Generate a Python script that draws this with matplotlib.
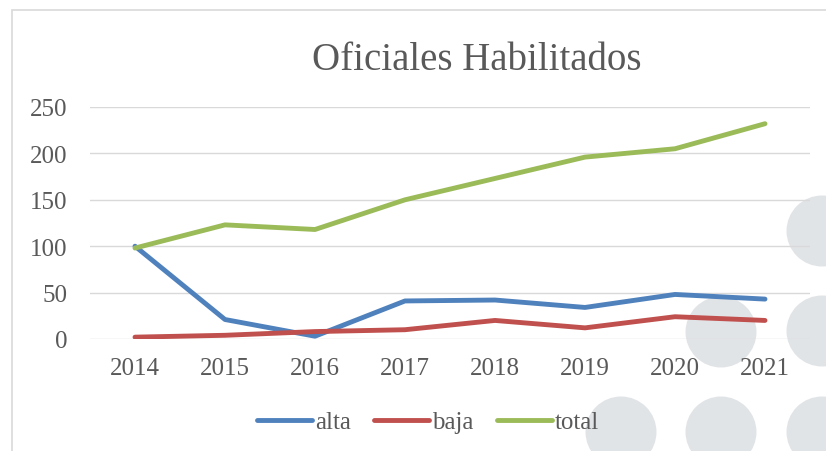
import matplotlib
matplotlib.use("Agg")
import matplotlib.pyplot as plt
from matplotlib.patches import Circle, Rectangle

years = ["2014", "2015", "2016", "2017", "2018", "2019", "2020", "2021"]
alta = [100, 21, 3, 41, 42, 34, 48, 43]
baja = [2, 4, 8, 10, 20, 12, 24, 20]
total = [98, 123, 118, 150, 173, 196, 205, 232]
yticks = [0, 50, 100, 150, 200, 250]
title = "Oficiales Habilitados"

W, H = 826, 452
fig = plt.figure(figsize=(W / 100, H / 100), dpi=100)
fig.patch.set_facecolor("white")

font = "Liberation Serif"
txt = "#595959"
grid = "#d9d9d9"

# decorative background circles (pixel coordinates)
for cx, cy in [(822, 232), (721, 333), (822, 332), (621, 433), (721, 433), (822, 433)]:
    fig.patches.append(Circle((cx / 100, (H - cy) / 100), 0.355,
                              transform=fig.dpi_scale_trans,
                              facecolor="#e1e4e7", edgecolor="none", zorder=-2))

# chart border
fig.patches.append(Rectangle((11.5 / 100, -0.2), (W + 50) / 100, (H - 11.5) / 100 + 0.2,
                             transform=fig.dpi_scale_trans, facecolor="none",
                             edgecolor=grid, linewidth=1.2, zorder=-1))

ax = fig.add_axes([90 / W, 1 - 340 / H, 720 / W, 232 / H])
ax.set_zorder(1)
ax.set_facecolor("none")
x = list(range(len(years)))
ax.plot(x, alta, color="#4f81bd", lw=3.5, solid_capstyle="round", solid_joinstyle="round", label="alta", zorder=3)
ax.plot(x, baja, color="#c0504d", lw=3.5, solid_capstyle="round", solid_joinstyle="round", label="baja", zorder=3)
ax.plot(x, total, color="#9bbb59", lw=3.5, solid_capstyle="round", solid_joinstyle="round", label="total", zorder=3)

ax.set_xlim(-0.5, len(years) - 0.5)
ax.set_ylim(0, 250)
ax.set_yticks(yticks)
ax.set_xticks(x)
ax.set_xticklabels(years)
ax.yaxis.grid(True, color=grid, lw=1.0)
ax.set_axisbelow(True)
for s in ax.spines.values():
    s.set_visible(False)
ax.tick_params(axis="both", length=0, labelsize=18, labelcolor=txt)
ax.tick_params(axis="y", pad=16)
ax.tick_params(axis="x", pad=13)
for lab in ax.get_xticklabels() + ax.get_yticklabels():
    lab.set_fontfamily(font)

fig.text(476.5 / W, 1 - 70 / H, title, ha="center", va="baseline",
         fontsize=28, color=txt, family=font, zorder=2)

leg = fig.legend(loc="center", bbox_to_anchor=(428 / W, 1 - 423 / H), ncol=3,
                 frameon=False, prop={"family": font, "size": 18},
                 handlelength=2.2, handletextpad=0.12, columnspacing=0.92,
                 labelcolor=txt)
leg.set_zorder(2)

fig.savefig("out.png", dpi=100)
